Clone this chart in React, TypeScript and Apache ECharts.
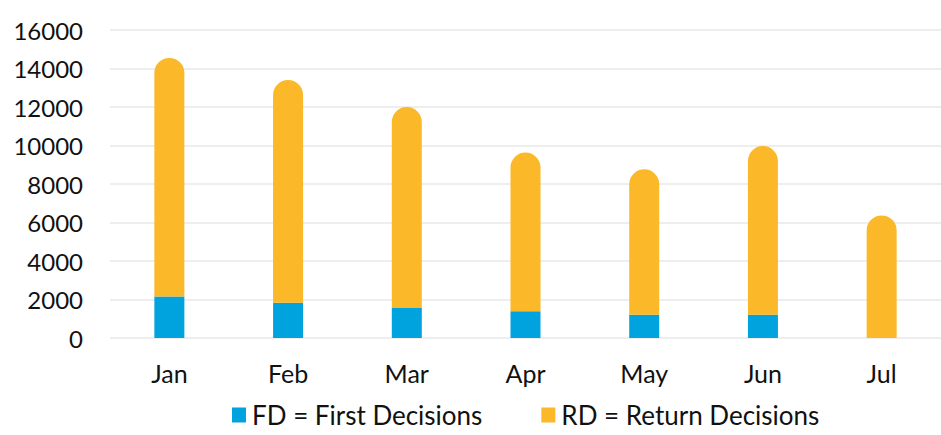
import React, { useEffect, useRef } from "react";
import * as echarts from "echarts";

const months = ["Jan", "Feb", "Mar", "Apr", "May", "Jun", "Jul"];
const firstDecisions = [2150, 1830, 1560, 1390, 1210, 1210, 0];
const returnDecisions = [12400, 11570, 10440, 8240, 7550, 8760, 6370];

const FONT = "Lato";

export default function App() {
  const ref = useRef<HTMLDivElement>(null);
  useEffect(() => {
    if (!ref.current) return;
    const chart = echarts.init(ref.current, undefined, { renderer: "svg" });
    chart.setOption({
      animation: false,
      backgroundColor: "#ffffff",
      grid: { left: 110, top: 30, width: 840, height: 308, containLabel: false },
      legend: {
        top: 401,
        left: 232,
        padding: 0,
        itemWidth: 14,
        itemHeight: 15,
        itemGap: 59,
        icon: "rect",
        textStyle: {
          fontFamily: FONT,
          fontSize: 26,
          lineHeight: 28,
          color: "#111",
          padding: [0, 0, 0, 1],
        },
        data: ["FD = First Decisions", "RD = Return Decisions"],
      },
      xAxis: {
        type: "category",
        data: months,
        axisLine: { show: false },
        axisTick: { show: false },
        axisLabel: { fontFamily: FONT, fontSize: 25, color: "#111", margin: 22 },
      },
      yAxis: {
        type: "value",
        min: 0,
        max: 16000,
        interval: 2000,
        axisLine: { show: false },
        axisTick: { show: false },
        axisLabel: {
          fontFamily: FONT,
          fontSize: 24,
          color: "#111",
          margin: 27,
          formatter: (v: number) => String(v),
        },
        splitLine: { lineStyle: { color: "#e9e9e9", width: 1.5 } },
      },
      series: [
        {
          name: "FD = First Decisions",
          type: "bar",
          stack: "total",
          barWidth: 30,
          data: firstDecisions,
          itemStyle: { color: "#00A3DD" },
        },
        {
          name: "RD = Return Decisions",
          type: "bar",
          stack: "total",
          barWidth: 30,
          data: returnDecisions,
          itemStyle: { color: "#FBB829", borderRadius: [15, 15, 0, 0] },
        },
      ],
    });
    return () => chart.dispose();
  }, []);
  return <div ref={ref} style={{ width: 941, height: 435, position: "absolute", left: 0, top: 0 }} />;
}
